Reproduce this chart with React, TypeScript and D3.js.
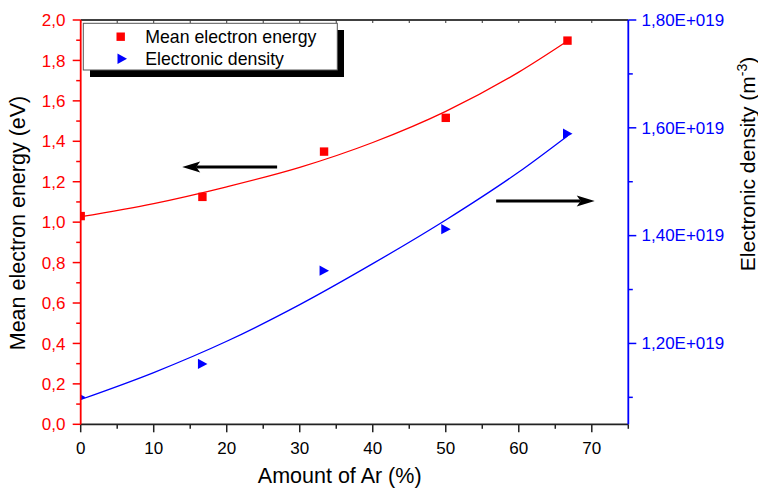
import React from "react";
import * as d3 from "d3";

// ---- data ----
const arPercent = [0, 16.67, 33.33, 50, 66.67];
const meanEnergy = [1.03, 1.125, 1.349, 1.516, 1.898];
const electronDensity = [1.1e19, 1.162e19, 1.335e19, 1.412e19, 1.589e19];

const fitX = [0, 10, 20, 30, 40, 50, 60, 66.67];
const energyFit = [1.027, 1.092, 1.175, 1.271, 1.394, 1.548, 1.742, 1.896];
const densityFit = [1.096e19, 1.146e19, 1.204e19, 1.272e19, 1.348e19, 1.429e19, 1.518e19, 1.585e19];

const xTicks = [0, 10, 20, 30, 40, 50, 60, 70];
const xMinor = [5, 15, 25, 35, 45, 55, 65, 75];
const yLeftTicks = [0, 0.2, 0.4, 0.6, 0.8, 1.0, 1.2, 1.4, 1.6, 1.8, 2.0];
const yLeftMinor = [0.1, 0.3, 0.5, 0.7, 0.9, 1.1, 1.3, 1.5, 1.7, 1.9];
const yRightTicks = [1.2e19, 1.4e19, 1.6e19, 1.8e19];
const yRightMinor = [1.1e19, 1.3e19, 1.5e19, 1.7e19];

// annotation arrows: [xFrom, xTo, yLeftValue]
const arrowLeft = [26.9, 13.9, 1.273];
const arrowRight = [56.9, 70.4, 1.105];

const legendLabels = ["Mean electron energy", "Electronic density"];

const FONT = "'Liberation Sans', Arial, Helvetica, sans-serif";
const RED = "#ff0000";
const BLUE = "#0000ff";

export default function App() {
  const W = 758, H = 488;
  const x = d3.scaleLinear().domain([0, 75]).range([80.7, 628.3]);
  const yL = d3.scaleLinear().domain([0, 2]).range([424.3, 20]);
  const yR = d3.scaleLinear().domain([1.05e19, 1.8e19]).range([424.3, 20]);
  const [x0, x1] = x.range();
  const [yb, yt] = yL.range();

  const lineL = d3.line<number>().x((_, i) => x(fitX[i])).y((d) => yL(d)).curve(d3.curveMonotoneX);
  const lineR = d3.line<number>().x((_, i) => x(fitX[i])).y((d) => yR(d)).curve(d3.curveMonotoneX);

  const fmtL = (v: number) => v.toFixed(1).replace(".", ",");
  const fmtR = (v: number) => (v / 1e19).toFixed(2).replace(".", ",") + "E+019";

  const MAJ = 8, MIN = 4.5;

  const arrow = (a: number[], key: string) => {
    const xa = x(a[0]), xb = x(a[1]), yy = yL(a[2]);
    const dir = xb > xa ? 1 : -1;
    const hl = 18, hw = 5.5;
    const back = xb - dir * hl;
    const notch = xb - dir * (hl - 4);
    return (
      <g key={key}>
        <line x1={xa} y1={yy} x2={notch} y2={yy} stroke="#000" strokeWidth={3} />
        <polygon
          points={`${xb},${yy} ${back},${yy - hw} ${notch},${yy} ${back},${yy + hw}`}
          fill="#000"
        />
      </g>
    );
  };

  return (
    <svg width={W} height={H} style={{ position: "absolute", left: 0, top: 0, fontFamily: FONT }}>
      <defs>
        <clipPath id="plotclip">
          <rect x={x0} y={yt} width={x1 - x0} height={yb - yt} />
        </clipPath>
      </defs>
      <rect width={W} height={H} fill="#fff" />

      {/* fit curves */}
      <g clipPath="url(#plotclip)">
        <path d={lineL(energyFit) || ""} fill="none" stroke={RED} strokeWidth={1.3} />
        <path d={lineR(densityFit) || ""} fill="none" stroke={BLUE} strokeWidth={1.3} />
        {arPercent.map((v, i) => (
          <rect key={"s" + i} x={x(v) - 4.2} y={yL(meanEnergy[i]) - 4.2} width={8.4} height={8.4} fill={RED} />
        ))}
        {arPercent.map((v, i) => {
          const cx = x(v), cy = yR(electronDensity[i]);
          return (
            <polygon key={"t" + i} points={`${cx - 4.5},${cy - 5.2} ${cx + 5},${cy} ${cx - 4.5},${cy + 5.2}`} fill={BLUE} />
          );
        })}
      </g>

      {/* top axis */}
      <line x1={x0} y1={yt} x2={x1} y2={yt} stroke="#000" strokeWidth={1.5} />
      {[...xTicks, ...xMinor].map((v) => (
        <line key={"tt" + v} x1={x(v)} x2={x(v)} y1={yt} y2={yt + 3} stroke="#333" strokeWidth={1} />
      ))}

      {/* bottom axis */}
      <line x1={x0} y1={yb} x2={x1} y2={yb} stroke="#222" strokeWidth={1.8} />
      {xTicks.map((v) => (
        <g key={"bx" + v}>
          <line x1={x(v)} x2={x(v)} y1={yb} y2={yb + MAJ} stroke="#222" strokeWidth={1.5} />
          <text x={x(v)} y={454} textAnchor="middle" fontSize={17} fill="#000">{v}</text>
        </g>
      ))}
      {xMinor.map((v) => (
        <line key={"bm" + v} x1={x(v)} x2={x(v)} y1={yb} y2={yb + MIN} stroke="#222" strokeWidth={1.5} />
      ))}
      <text x={339.7} y={483} textAnchor="middle" fontSize={21.5} fill="#000">Amount of Ar (%)</text>

      {/* left axis */}
      <line x1={x0} y1={yt} x2={x0} y2={yb} stroke={RED} strokeWidth={1.8} />
      {yLeftTicks.map((v) => (
        <g key={"ly" + v}>
          <line x1={x0 - MAJ} x2={x0} y1={yL(v)} y2={yL(v)} stroke={RED} strokeWidth={1.5} />
          <text x={65.5} y={yL(v)} dy="0.36em" textAnchor="end" fontSize={17} fill={RED}>{fmtL(v)}</text>
        </g>
      ))}
      {yLeftMinor.map((v) => (
        <line key={"lm" + v} x1={x0 - MIN} x2={x0} y1={yL(v)} y2={yL(v)} stroke={RED} strokeWidth={1.5} />
      ))}
      <text transform={`translate(25,223) rotate(-90)`} textAnchor="middle" fontSize={21.5} fill="#000">
        Mean electron energy (eV)
      </text>

      {/* right axis */}
      <line x1={x1} y1={yt} x2={x1} y2={yb} stroke={BLUE} strokeWidth={1.8} />
      {yRightTicks.map((v) => (
        <g key={"ry" + v}>
          <line x1={x1} x2={x1 + MAJ} y1={yR(v)} y2={yR(v)} stroke={BLUE} strokeWidth={1.5} />
          <text x={641.5} y={yR(v)} dy="0.34em" textAnchor="start" fontSize={17} fill={BLUE}>{fmtR(v)}</text>
        </g>
      ))}
      {yRightMinor.map((v) => (
        <line key={"rm" + v} x1={x1} x2={x1 + MIN} y1={yR(v)} y2={yR(v)} stroke={BLUE} strokeWidth={1.5} />
      ))}
      <text transform={`translate(755,164) rotate(-90)`} textAnchor="middle" fontSize={21} fill="#000">
        Electronic density (m
        <tspan dy={-8} fontSize={14}>-3</tspan>
        <tspan dy={8}>)</tspan>
      </text>

      {/* arrows */}
      {arrow(arrowLeft, "al")}
      {arrow(arrowRight, "ar")}

      {/* legend */}
      <rect x={90} y={30} width={254} height={47} fill="#000" />
      <rect x={83.3} y={23.3} width={254} height={46.7} fill="#fff" stroke="#555" strokeWidth={1} />
      <rect x={120.7 - 4.2} y={36.7 - 4.2} width={8.4} height={8.4} fill={RED} />
      <text x={145.3} y={43.3} fontSize={17.7} fill="#000">{legendLabels[0]}</text>
      <polygon points={`${122 - 4.5},${58.7 - 5.2} ${122 + 5},${58.7} ${122 - 4.5},${58.7 + 5.2}`} fill={BLUE} />
      <text x={145.3} y={65} fontSize={17.7} fill="#000">{legendLabels[1]}</text>
    </svg>
  );
}
